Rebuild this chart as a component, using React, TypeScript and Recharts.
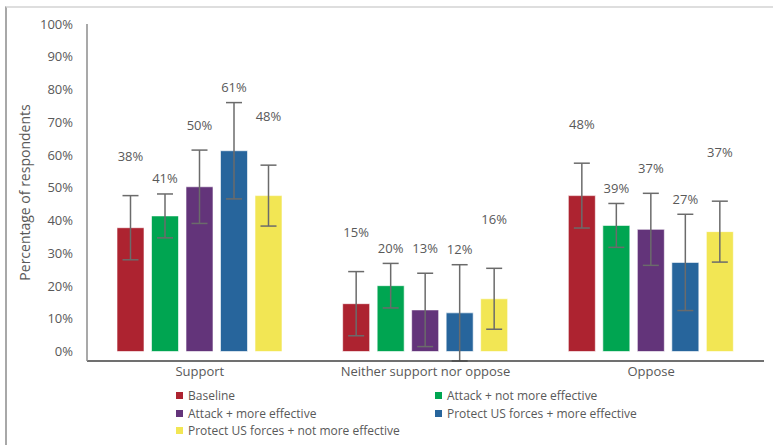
import React from 'react';
import { BarChart, Bar, XAxis, YAxis, ErrorBar, LabelList } from 'recharts';

const categories = ['Support', 'Neither support nor oppose', 'Oppose'];

const baseline = [37.8, 14.6, 47.6];
const baselineErr = [9.8, 9.8, 9.9];
const attackNotMore = [41.4, 20.1, 38.5];
const attackNotMoreErr = [6.7, 6.8, 6.7];
const attackMore = [50.3, 12.7, 37.3];
const attackMoreErr = [11.2, 11.2, 11.0];
const protectMore = [61.3, 11.8, 27.2];
const protectMoreErr = [14.7, 14.7, 14.7];
const protectNotMore = [47.6, 16.1, 36.6];
const protectNotMoreErr = [9.3, 9.3, 9.3];

const yTicks = [0, 10, 20, 30, 40, 50, 60, 70, 80, 90, 100];

const series = [
    { key: 'baseline', name: 'Baseline', color: '#ad2330', labelLift: 70 },
    { key: 'attackNotMore', name: 'Attack + not more effective', color: '#00a551', labelLift: 36 },
    { key: 'attackMore', name: 'Attack + more effective', color: '#63347a', labelLift: 60 },
    { key: 'protectMore', name: 'Protect US forces + more effective', color: '#27659c', labelLift: 62 },
    { key: 'protectNotMore', name: 'Protect US forces + not more effective', color: '#f2e654', labelLift: 78 },
];

const values: Record<string, number[]> = { baseline, attackNotMore, attackMore, protectMore, protectNotMore };
const errors: Record<string, number[]> = {
    baseline: baselineErr,
    attackNotMore: attackNotMoreErr,
    attackMore: attackMoreErr,
    protectMore: protectMoreErr,
    protectNotMore: protectNotMoreErr,
};

const data = categories.map((cat, i) => {
    const row: any = { category: cat };
    series.forEach((s) => {
        row[s.key] = values[s.key][i];
        row[s.key + 'Err'] = errors[s.key][i];
    });
    return row;
});

const FONT = '"Open Sans", sans-serif';
const TEXT = '#595959';

const makeLabel = (lift: number) => (props: any) => {
    const { x, y, width, value } = props;
    return (
        <text
            x={x + width / 2}
            y={y - lift}
            textAnchor="middle"
            dominantBaseline="middle"
            fontSize={13}
            fontFamily={FONT}
            fill={TEXT}
        >
            {Math.round(value)}%
        </text>
    );
};

// legend laid out like the source: two columns, row-major
const ChartLegend = () => (
    <div style={{ position: 'absolute', left: 0, top: 387, width: 773, height: 58, fontFamily: FONT, fontSize: 12, color: TEXT }}>
        {series.map((s, i) => (
            <div
                key={s.key}
                style={{
                    position: 'absolute',
                    left: i % 2 === 0 ? 176 : 435,
                    top: Math.floor(i / 2) * 17.7,
                    display: 'flex',
                    alignItems: 'center',
                    whiteSpace: 'nowrap',
                    lineHeight: '17px',
                }}
            >
                <span style={{ display: 'inline-block', width: 7, height: 7, background: s.color, marginRight: 5 }} />
                {s.name}
            </div>
        ))}
    </div>
);

export default function App() {
    return (
        <div style={{ position: 'absolute', left: 0, top: 0, width: 773, height: 445, background: '#fff' }}>
            <div
                style={{
                    position: 'absolute',
                    left: 5,
                    top: 6,
                    width: 768,
                    height: 439,
                    borderTop: '2px solid #dedede',
                    borderLeft: '2px solid #a8a8a8',
                    boxSizing: 'border-box',
                }}
            />
            <div style={{ position: 'absolute', left: 0, top: 0 }}>
                <BarChart
                    width={773}
                    height={445}
                    data={data}
                    margin={{ top: 24, right: 9, bottom: 54, left: 20 }}
                    barSize={27}
                    barGap={7.5}
                >
                    <XAxis
                        dataKey="category"
                        height={30}
                        axisLine={{ stroke: '#404040', strokeWidth: 1.5 }}
                        tickLine={false}
                        tickMargin={0}
                        tick={{ fontSize: 13, fontFamily: FONT, fill: TEXT }}
                        interval={0}
                    />
                    <YAxis
                        width={67}
                        domain={[0, 100]}
                        ticks={yTicks}
                        tickFormatter={(v) => v + '%'}
                        axisLine={{ stroke: '#8c8c8c', strokeWidth: 1.5 }}
                        tickLine={false}
                        tickMargin={8}
                        tick={{ fontSize: 13, fontFamily: FONT, fill: TEXT }}
                        label={{
                            value: 'Percentage of respondents',
                            angle: -90,
                            position: 'insideLeft',
                            offset: 5,
                            style: { textAnchor: 'middle', fontSize: 14, fontFamily: FONT, fill: TEXT },
                        }}
                    />
                    {series.map((s) => (
                        <Bar
                            key={s.key}
                            dataKey={s.key}
                            name={s.name}
                            fill={s.color}
                            stroke="rgba(255,255,255,0.6)"
                            strokeWidth={1}
                            isAnimationActive={false}
                        >
                            <ErrorBar dataKey={s.key + 'Err'} width={8} stroke="#6b6b6b" strokeWidth={1.5} />
                            <LabelList dataKey={s.key} content={makeLabel(s.labelLift)} />
                        </Bar>
                    ))}
                </BarChart>
            </div>
            <ChartLegend />
        </div>
    );
}
